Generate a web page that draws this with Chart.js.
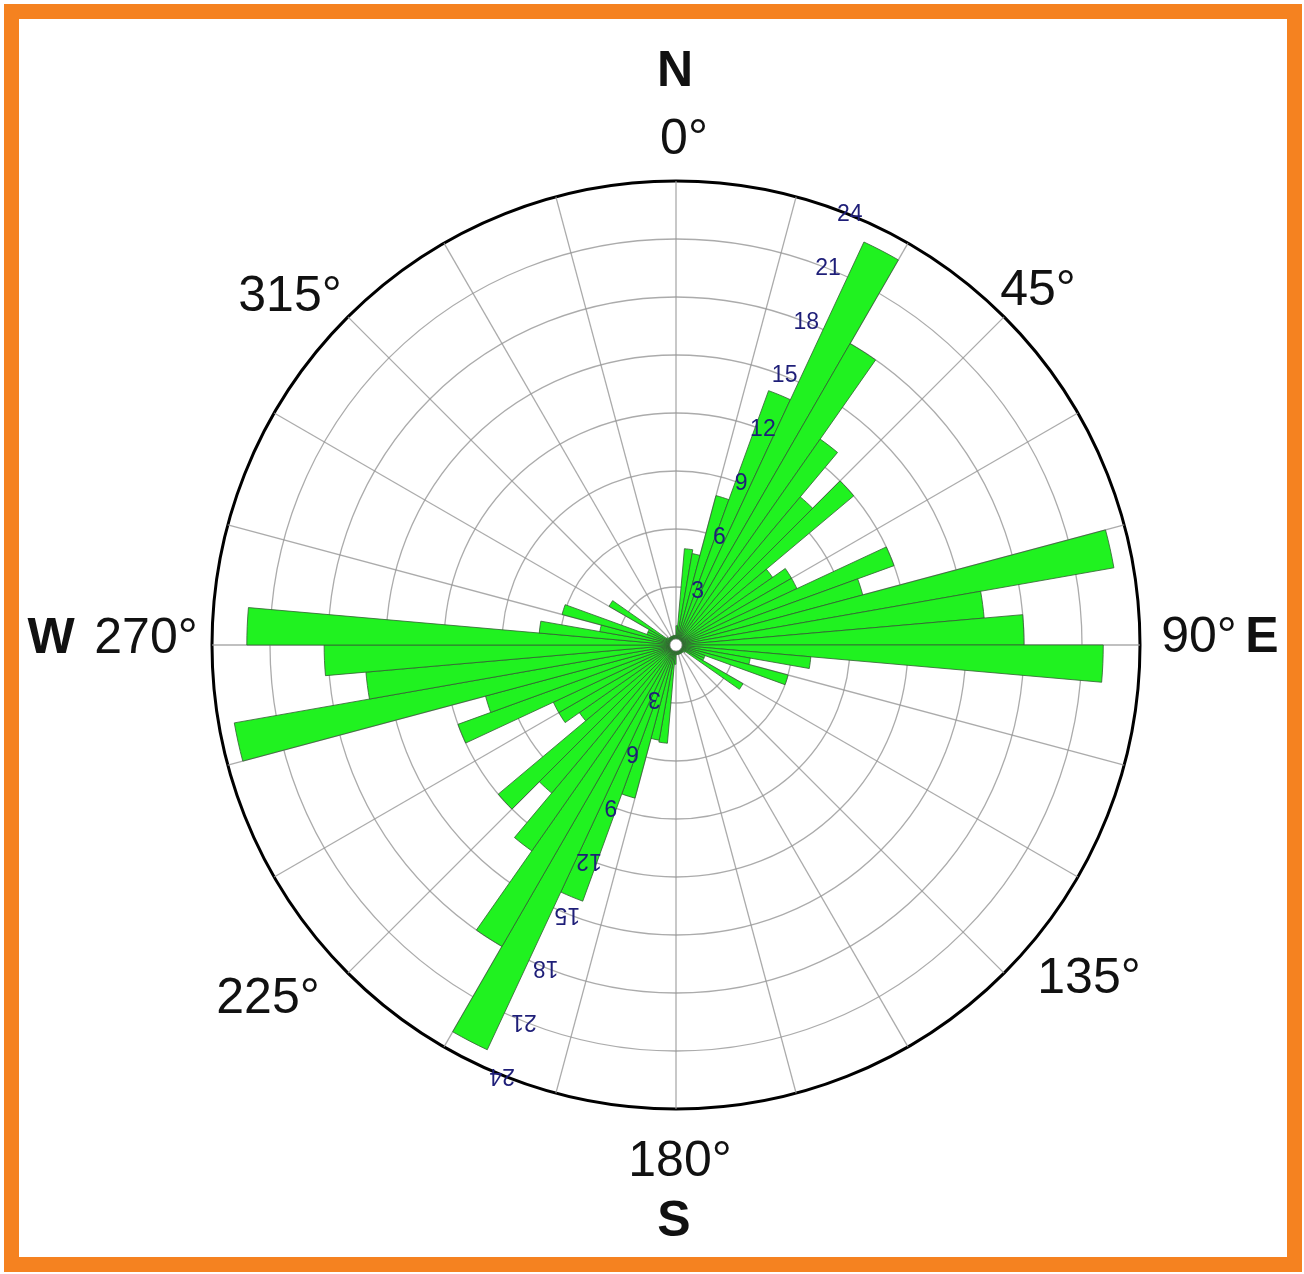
<!DOCTYPE html>
<html>
<head>
<meta charset="utf-8">
<title>Rose diagram</title>
<script src="https://cdn.jsdelivr.net/npm/chart.js@4.4.1/dist/chart.umd.min.js"></script>
<style>
  html, body { margin: 0; padding: 0; background: #ffffff; }
  #frame {
    position: absolute; left: 4px; top: 4px;
    width: 1298px; height: 1268px;
    box-sizing: border-box;
    border: 15px solid #f58220;
    background: #ffffff;
  }
  #rose { position: absolute; left: 0; top: 0; }
</style>
</head>
<body>
<div id="frame"></div>
<canvas id="rose" width="1304" height="1274"></canvas>
<script>
// 5-degree direction bins (start bearing of each bin, clockwise from north)
const binStarts = [
  0, 5, 10, 15, 20, 25, 30, 35, 40, 45, 50, 55,
  60, 65, 70, 75, 80, 85, 90, 95, 100, 105, 110, 115,
  120, 125, 130, 135, 140, 145, 150, 155, 160, 165, 170, 175,
  180, 185, 190, 195, 200, 205, 210, 215, 220, 225, 230, 235,
  240, 245, 250, 255, 260, 265, 270, 275, 280, 285, 290, 295,
  300, 305, 310, 315, 320, 325, 330, 335, 340, 345, 350, 355
];

// frequency per bin, 0-175
const countsNorthEast = [
  1.0, 5.0, 4.8, 8.0, 14.0, 23.0, 18.0, 13.0, 10.0, 12.0, 6.1, 6.9,
  6.9, 12.0, 10.0, 23.0, 16.0, 18.0, 22.1, 7.0, 3.9, 6.0, 1.6, 1.6,
  4.0, 0.6, 0.5, 0.5, 0.5, 0.5, 0.5, 0.5, 0.5, 0.5, 0.5, 0.5
];
// frequency per bin, 180-355
const countsSouthWest = [
  1.0, 5.1, 5.0, 8.2, 14.1, 23.1, 18.0, 13.0, 10.0, 12.0, 6.1, 7.0,
  7.0, 12.0, 10.2, 23.2, 16.1, 18.2, 22.2, 7.1, 4.0, 6.1, 1.6, 1.6,
  4.0, 0.6, 0.5, 0.5, 0.5, 0.5, 0.5, 0.5, 0.5, 0.5, 0.5, 0.5
];

// ring values and the bearing along which they are printed
const ringTicks = [3, 6, 9, 12, 15, 18, 21, 24];
const ringLabelBearing = 22;

// compass annotations: text, weight, offset from the rose centre (px)
const compassText = [
  { text: 'N',    bold: true,  dx: -1,   dy: -577 },
  { text: '0°',   bold: false, dx: 8,    dy: -509 },
  { text: '45°',  bold: false, dx: 362,  dy: -358 },
  { text: '90°',  bold: false, dx: 523,  dy: -11 },
  { text: 'E',    bold: true,  dx: 586,  dy: -11 },
  { text: '135°', bold: false, dx: 413,  dy: 330 },
  { text: '180°', bold: false, dx: 4,    dy: 513 },
  { text: 'S',    bold: true,  dx: -2,   dy: 573 },
  { text: '225°', bold: false, dx: -408, dy: 350 },
  { text: '270°', bold: false, dx: -530, dy: -10 },
  { text: 'W',    bold: true,  dx: -625, dy: -10 },
  { text: '315°', bold: false, dx: -386, dy: -352 }
];

const counts = countsNorthEast.concat(countsSouthWest);

const roseAnnotations = {
  id: 'roseAnnotations',
  afterDraw(chart) {
    const r = chart.scales.r;
    const ctx = chart.ctx;
    const cx = r.xCenter, cy = r.yCenter;

    // white hub at the centre
    ctx.save();
    ctx.beginPath();
    ctx.arc(cx, cy, 6, 0, Math.PI * 2);
    ctx.fillStyle = '#ffffff';
    ctx.fill();
    ctx.lineWidth = 1;
    ctx.strokeStyle = 'rgba(150,150,150,0.7)';
    ctx.stroke();
    ctx.restore();

    // ring values, upright on one side and turned over on the opposite side
    ctx.save();
    ctx.font = '23px "Liberation Sans", Arial, sans-serif';
    ctx.fillStyle = '#1e1e78';
    ctx.textAlign = 'center';
    ctx.textBaseline = 'middle';
    ringTicks.forEach(v => {
      const d = r.getDistanceFromCenterForValue(v);
      [ringLabelBearing, ringLabelBearing + 180].forEach((b, k) => {
        const a = b * Math.PI / 180;
        ctx.save();
        ctx.translate(cx + d * Math.sin(a), cy - d * Math.cos(a));
        if (k === 1) ctx.rotate(Math.PI);
        ctx.fillText(String(v), 0, 0);
        ctx.restore();
      });
    });
    ctx.restore();

    // compass directions and bearings
    ctx.save();
    ctx.fillStyle = '#111111';
    ctx.textAlign = 'center';
    ctx.textBaseline = 'alphabetic';
    const size = 50;
    compassText.forEach(t => {
      ctx.font = (t.bold ? 'bold ' : '') + size + 'px "Liberation Sans", Arial, sans-serif';
      ctx.fillText(t.text, cx + t.dx, cy + t.dy + size * 0.358);
    });
    ctx.restore();
  }
};

new Chart(document.getElementById('rose'), {
  type: 'polarArea',
  data: {
    labels: binStarts,
    datasets: [{
      data: counts,
      backgroundColor: '#20f220',
      borderColor: 'rgba(50,95,50,0.8)',
      borderWidth: 1
    }]
  },
  options: {
    responsive: false,
    animation: false,
    layout: { padding: { left: 212, top: 181, right: 164, bottom: 165 } },
    plugins: { legend: { display: false }, tooltip: { enabled: false } },
    scales: {
      r: {
        min: 0,
        max: 24,
        startAngle: 0,
        z: 1,
        ticks: { display: false, stepSize: 3 },
        pointLabels: { display: false },
        grid: {
          circular: true,
          color: c => c.tick && c.tick.value === 24 ? '#000000' : 'rgba(150,150,150,0.8)',
          lineWidth: c => c.tick && c.tick.value === 24 ? 3 : 1.3
        },
        angleLines: {
          display: true,
          color: 'rgba(150,150,150,0.8)',
          lineWidth: c => (c.index % 3 === 0 ? 1.3 : 0)
        }
      }
    }
  },
  plugins: [roseAnnotations]
});
</script>
</body>
</html>
